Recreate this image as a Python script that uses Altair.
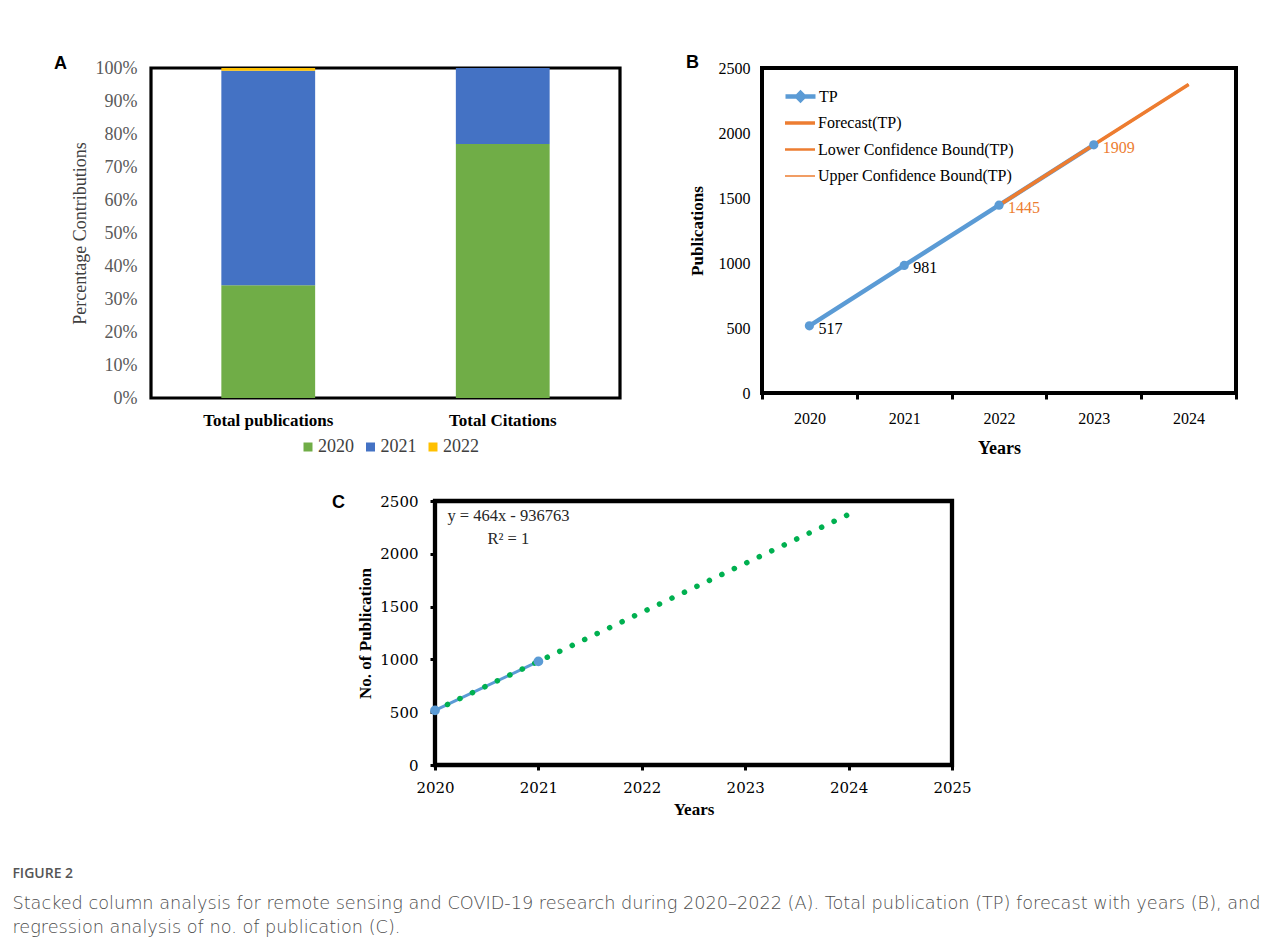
import altair as alt
import pandas as pd

SERIF = "Liberation Serif"
SANS = "Liberation Sans"

# ---------------- Panel A data ----------------
a_categories = ["Total publications", "Total Citations"]
a_years = ["2020", "2021", "2022"]
a_publications_pct = [34.2, 65.0, 0.8]
a_citations_pct = [77.0, 23.0, 0.0]
a_colors = ["#70AD47", "#4472C4", "#FFC000"]
a_ticks = [0, 10, 20, 30, 40, 50, 60, 70, 80, 90, 100]

# ---------------- Panel B data ----------------
b_years = ["2020", "2021", "2022", "2023", "2024"]
tp_years = ["2020", "2021", "2022", "2023"]
tp_values = [517, 981, 1445, 1909]
fc_years = ["2022", "2023", "2024"]
forecast_values = [1445, 1909, 2373]
lower_bound_values = [1445, 1909, 2373]
upper_bound_values = [1445, 1909, 2373]
fc_series = ["Forecast(TP)", "Lower Confidence Bound(TP)", "Upper Confidence Bound(TP)"]
b_ticks = [0, 500, 1000, 1500, 2000, 2500]

# ---------------- Panel C data ----------------
c_obs_years = [2020, 2021]
c_obs_values = [517, 981]
c_trend_years = [2020, 2024]
c_trend_values = [517, 2373]
c_slope = 464
c_intercept = 936763
c_r2 = 1
c_xticks = [2020, 2021, 2022, 2023, 2024, 2025]
c_yticks = [0, 500, 1000, 1500, 2000, 2500]

caption_title = "FIGURE 2"
caption_lines = [
    "Stacked column analysis for remote sensing and COVID-19 research during 2020\u20132022 (A). Total publication (TP) forecast with years (B), and",
    "regression analysis of no. of publication (C).",
]

BLUE = "#5B9BD5"
ORANGE = "#ED7D31"
GREEN = "#00B050"


def panel_title(letter, dx, dy):
    return alt.TitleParams(letter, anchor="start", frame="group", font=SANS, fontSize=18,
                           fontWeight="bold", color="black", dx=dx, dy=dy, offset=0,
                           baseline="alphabetic")


# ---------------- Panel A ----------------
rows = []
for cat, vals in zip(a_categories, [a_publications_pct, a_citations_pct]):
    for i, (yr, v) in enumerate(zip(a_years, vals)):
        rows.append({"category": cat, "year": yr, "idx": i, "pct": v})
df_a = pd.DataFrame(rows)

chart_a = alt.Chart(df_a, title=panel_title("A", -97, 28)).mark_bar().encode(
    x=alt.X("category:N", sort=a_categories,
            scale=alt.Scale(paddingInner=0.6, paddingOuter=0.3),
            axis=alt.Axis(title=None, labelAngle=0, labelFont=SERIF, labelFontSize=17,
                          labelFontWeight="bold", labelColor="black", labelPadding=14,
                          ticks=False, domain=False)),
    y=alt.Y("pct:Q", stack="zero", scale=alt.Scale(domain=[0, 100], nice=False),
            axis=alt.Axis(values=a_ticks, labelExpr="datum.value + '%'",
                          title="Percentage Contributions", titleFont=SERIF, titleFontSize=18,
                          titleFontWeight="normal", titleColor="#404040", titlePadding=6,
                          labelFont=SERIF, labelFontSize=18, labelColor="#595959",
                          labelPadding=14, ticks=False, domain=False, grid=False)),
    color=alt.Color("year:N", scale=alt.Scale(domain=a_years, range=a_colors),
                    legend=alt.Legend(orient="none", legendX=148, legendY=370,
                                      direction="horizontal", title=None,
                                      symbolType="square", symbolSize=81, symbolStrokeWidth=0,
                                      labelFont=SERIF, labelFontSize=18, labelColor="#404040",
                                      labelOffset=1, columnPadding=7.5, padding=0)),
    order=alt.Order("idx:Q", sort="ascending"),
).properties(width=469, height=330,
             view=alt.ViewBackground(stroke="black", strokeWidth=3.2))

# ---------------- Panel B ----------------
df_tp = pd.DataFrame({"year": tp_years, "value": tp_values, "series": ["TP"] * len(tp_years)})
fc_rows = []
for name, vals in zip(fc_series, [forecast_values, lower_bound_values, upper_bound_values]):
    for yr, v in zip(fc_years, vals):
        fc_rows.append({"year": yr, "value": v, "series": name})
df_fc = pd.DataFrame(fc_rows)

xb = alt.X("year:O", scale=alt.Scale(type="band", domain=b_years, paddingInner=0, paddingOuter=0),
           bandPosition=0.5,
           axis=alt.Axis(title="Years", labelAngle=0, tickBand="extent", ticks=True, tickSize=6,
                         tickWidth=3, tickColor="black", labelFont=SERIF, labelFontSize=16,
                         labelColor="black", labelPadding=11, domain=False,
                         titleFont=SERIF, titleFontSize=18, titleFontWeight="bold",
                         titleColor="black", titlePadding=13))
yb = alt.Y("value:Q", scale=alt.Scale(domain=[0, 2500], nice=False),
           axis=alt.Axis(values=b_ticks, format="d", title="Publications", ticks=False,
                         domain=False, grid=False,
                         labelFont=SERIF, labelFontSize=16, labelColor="black", labelPadding=12,
                         titleFont=SERIF, titleFontSize=17, titleFontWeight="bold",
                         titleColor="black", titlePadding=12))

tp_line = alt.Chart(df_tp).mark_line(strokeWidth=4.5).encode(
    x=xb, y=yb,
    color=alt.Color("series:N", scale=alt.Scale(domain=["TP"], range=[BLUE]),
                    legend=alt.Legend(orient="none", legendX=26, legendY=16, title=None,
                                      symbolType="M-1.5,0H1.5M-0.35,0L0,-0.35L0.35,0L0,0.35Z",
                                      symbolSize=400, symbolStrokeWidth=4.5,
                                      labelFont=SERIF, labelFontSize=16, labelColor="black",
                                      labelOffset=6, labelLimit=400, padding=0)),
)

fc_legend = alt.Legend(orient="none", legendX=26, legendY=43, title=None,
                       symbolType="M-1.5,0H1.5", symbolSize=400,
                       labelFont=SERIF, labelFontSize=16, labelColor="black",
                       labelOffset=6, labelLimit=400, rowPadding=7, padding=0)
fc_line = alt.Chart(df_fc).mark_line().encode(
    x=xb, y=yb,
    color=alt.Color("series:N", scale=alt.Scale(domain=fc_series, range=[ORANGE] * 3),
                    legend=fc_legend),
    strokeWidth=alt.StrokeWidth("series:N", scale=alt.Scale(domain=fc_series, range=[3.5, 1.5, 1.5]),
                                legend=fc_legend),
)

tp_points = alt.Chart(df_tp).mark_point(filled=True, shape="circle", size=85, opacity=1,
                                        color=BLUE).encode(x=xb, y=yb)

tp_labels = alt.Chart(df_tp).mark_text(align="left", baseline="middle", dx=9, dy=3,
                                       font=SERIF, fontSize=16).encode(
    x=xb, y=yb, text=alt.Text("value:Q"),
    color=alt.condition("datum.year <= '2021'", alt.value("black"), alt.value(ORANGE)),
)

chart_b = alt.layer(tp_line, fc_line, tp_points, tp_labels).resolve_scale(
    color="independent", strokeWidth="independent"
).properties(width=474, height=325, title=panel_title("B", -76, 26),
             view=alt.ViewBackground(stroke="black", strokeWidth=4))

# ---------------- Panel C ----------------
df_obs = pd.DataFrame({"year": c_obs_years, "value": c_obs_values})
df_trend = pd.DataFrame({"year": c_trend_years, "value": c_trend_values})

xc = alt.X("year:Q", scale=alt.Scale(domain=[2020, 2025], nice=False, zero=False),
           axis=alt.Axis(values=c_xticks, format="d", title="Years", ticks=True, tickSize=5,
                         tickWidth=3, tickColor="black", domain=False, grid=False,
                         labelFont="DejaVu Serif", labelFontSize=15, labelColor="black",
                         labelPadding=10, labelFlush=False,
                         titleFont=SERIF, titleFontSize=17, titleFontWeight="bold",
                         titleColor="black", titlePadding=6))
yc = alt.Y("value:Q", scale=alt.Scale(domain=[0, 2500], nice=False),
           axis=alt.Axis(values=c_yticks, format="d", title="No. of Publication", ticks=True,
                         tickSize=5, tickWidth=3, tickColor="black", domain=False, grid=False,
                         labelFont="DejaVu Serif", labelFontSize=15, labelColor="black",
                         labelPadding=12,
                         titleFont=SERIF, titleFontSize=17, titleFontWeight="bold",
                         titleColor="black", titlePadding=5))

obs_line = alt.Chart(df_obs).mark_line(color=BLUE, strokeWidth=3).encode(x=xc, y=yc)
trend_line = alt.Chart(df_trend).mark_line(color=GREEN, strokeWidth=5.5, strokeDash=[0.1, 13.7],
                                           strokeCap="round").encode(x=xc, y=yc)
obs_points = alt.Chart(df_obs).mark_point(filled=True, shape="circle", size=95, opacity=1,
                                          color=BLUE).encode(x=xc, y=yc)
eq_lines = [f"y = {c_slope}x - {c_intercept}", f"R\u00b2 = {c_r2}"]
equation = alt.Chart(alt.Data(values=[{}])).mark_text(
    align="center", baseline="middle", font=SERIF, fontSize=16.5, lineHeight=23, color="#262626"
).encode(x=alt.datum(2020.71), y=alt.datum(2358), text=alt.value(eq_lines))

chart_c = alt.layer(obs_line, trend_line, obs_points, equation).properties(
    width=517, height=264, title=panel_title("C", -103, 32),
    view=alt.ViewBackground(stroke="black", strokeWidth=4.3))

# invisible layout spacer that pushes panel C to the right
spacer = alt.Chart(alt.Data(values=[{}])).mark_point(opacity=0).properties(
    width=178, height=10, view=alt.ViewBackground(stroke=None, fill=None))

# ---------------- Layout ----------------
row1 = alt.hconcat(chart_a, chart_b, spacing=62).resolve_scale(
    color="independent", strokeWidth="independent")
row2 = alt.hconcat(spacer, chart_c, spacing=0)
chart = alt.vconcat(row1, row2, spacing=32).resolve_scale(
    color="independent", strokeWidth="independent"
).properties(
    title=alt.TitleParams(caption_title, subtitle=caption_lines, orient="bottom", anchor="start",
                          frame="bounds", dx=-40, offset=48, font="Open Sans", fontSize=14,
                          fontWeight=600, color="#555555", subtitleFont="DejaVu Sans",
                          subtitleFontSize=17.7, subtitleFontWeight=300, subtitleColor="#4d4d4d",
                          subtitleLineHeight=24, subtitlePadding=14),
    padding={"left": 4, "top": 44, "right": 5, "bottom": 5},
).configure_axis(grid=False)

chart.save("out.html", embed_options={"renderer": "svg", "actions": False})
